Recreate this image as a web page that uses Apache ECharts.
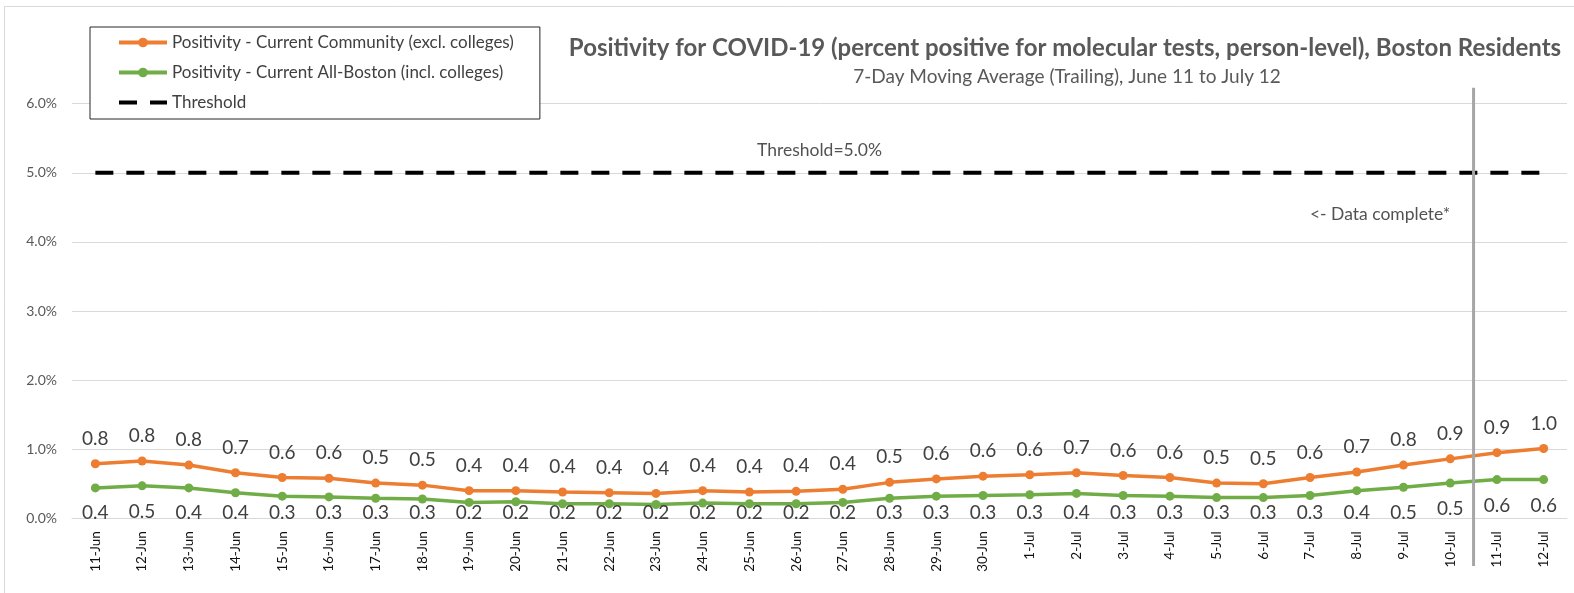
<!DOCTYPE html>
<html>
<head>
<meta charset="utf-8">
<script src="https://cdn.jsdelivr.net/npm/echarts@6/dist/echarts.min.js"></script>
<style>
  html, body { margin: 0; padding: 0; background: #fff; }
  #chart { width: 1574px; height: 593px; }
</style>
</head>
<body>
<div id="chart"></div>
<script>
// days, 11-Jun .. 12-Jul
var days = ["11-Jun", "12-Jun", "13-Jun", "14-Jun", "15-Jun", "16-Jun", "17-Jun", "18-Jun",
  "19-Jun", "20-Jun", "21-Jun", "22-Jun", "23-Jun", "24-Jun", "25-Jun", "26-Jun", "27-Jun",
  "28-Jun", "29-Jun", "30-Jun", "1-Jul", "2-Jul", "3-Jul", "4-Jul", "5-Jul", "6-Jul", "7-Jul",
  "8-Jul", "9-Jul", "10-Jul", "11-Jul", "12-Jul"];

// positivity, percent
var community = [0.79, 0.83, 0.77, 0.66, 0.59, 0.58, 0.51, 0.48, 0.40, 0.40, 0.38, 0.37,
  0.36, 0.40, 0.38, 0.39, 0.42, 0.52, 0.57, 0.61, 0.63, 0.66, 0.62, 0.59, 0.51, 0.50,
  0.59, 0.67, 0.77, 0.86, 0.95, 1.01];
var allBoston = [0.44, 0.47, 0.44, 0.37, 0.32, 0.31, 0.29, 0.28, 0.23, 0.24, 0.21, 0.21,
  0.20, 0.22, 0.21, 0.21, 0.23, 0.29, 0.32, 0.33, 0.34, 0.36, 0.33, 0.32, 0.30, 0.30,
  0.33, 0.40, 0.45, 0.51, 0.56, 0.56];
var thresholdValue = 5.0;
var threshold = days.map(function () { return thresholdValue; });

var yTicks = [0, 1, 2, 3, 4, 5, 6];

// "data complete" cut between 10-Jul and 11-Jul
var cutIndex = 29.5;

var chart = echarts.init(document.getElementById("chart"));
var font = "Lato, 'Open Sans', sans-serif";

function oneDecimal(p) { return p.value.toFixed(1); }

var option = {
  animation: false,
  textStyle: { fontFamily: font },
  graphic: [{
    type: "rect",
    shape: { x: 4.5, y: 6.5, width: 1620, height: 640 },
    style: { fill: null, stroke: "#d9d9d9", lineWidth: 1 },
    silent: true
  }],
  title: [{
    text: "Positivity for COVID-19 (percent positive for molecular tests, person-level), Boston Residents",
    left: 1060, top: 31, textAlign: "center",
    textStyle: { fontSize: 24, fontWeight: "bold", color: "#595959", fontFamily: font }
  }, {
    text: "7-Day Moving Average (Trailing), June 11 to July 12",
    left: 1062, top: 62, textAlign: "center",
    textStyle: { fontSize: 19, fontWeight: "normal", color: "#595959", fontFamily: font }
  }],
  legend: {
    orient: "vertical",
    left: 90, top: 27,
    padding: [7, 26, 8, 27],
    itemWidth: 48, itemHeight: 12, itemGap: 13,
    borderColor: "#262626", borderWidth: 1,
    backgroundColor: "#fff",
    lineStyle: { width: 4 },
    textStyle: { fontSize: 17, color: "#404040", fontFamily: font },
    data: ["Positivity - Current Community (excl. colleges)",
      "Positivity - Current All-Boston (incl. colleges)",
      { name: "Threshold", itemStyle: { opacity: 0 } }]
  },
  grid: { left: 72, right: 7, top: 103.7, bottom: 74.7 },
  xAxis: [{
    type: "category",
    data: days,
    boundaryGap: true,
    axisLine: { lineStyle: { color: "#d9d9d9", width: 1 } },
    axisTick: { show: false },
    axisLabel: { rotate: 90, margin: 13, fontSize: 13.5, color: "#111", fontFamily: font, interval: 0 }
  }, {
    type: "value", min: -0.5, max: days.length - 0.5, show: false
  }],
  yAxis: {
    type: "value",
    min: yTicks[0], max: yTicks[yTicks.length - 1], interval: 1,
    axisLine: { show: false },
    axisTick: { show: false },
    splitLine: { lineStyle: { color: "#d9d9d9", width: 1 } },
    axisLabel: {
      margin: 15, fontSize: 14, color: "#595959", fontFamily: font,
      formatter: function (v) { return v.toFixed(1) + "%"; }
    }
  },
  series: [{
    name: "Threshold",
    type: "line",
    data: threshold,
    symbol: "none",
    z: 1,
    lineStyle: { color: "#000", width: 4, type: [18, 13] },
    itemStyle: { color: "#000" }
  }, {
    name: "Positivity - Current Community (excl. colleges)",
    type: "line",
    data: community,
    symbol: "circle", symbolSize: 9,
    z: 3,
    lineStyle: { color: "#ED7D31", width: 3.5 },
    itemStyle: { color: "#ED7D31" },
    label: {
      show: true, position: "top", distance: 11,
      fontSize: 19, color: "#404040", fontFamily: font,
      formatter: oneDecimal
    }
  }, {
    name: "Positivity - Current All-Boston (incl. colleges)",
    type: "line",
    data: allBoston,
    symbol: "circle", symbolSize: 9,
    z: 3,
    lineStyle: { color: "#70AD47", width: 3.5 },
    itemStyle: { color: "#70AD47" },
    label: {
      show: true, position: "bottom", distance: 12,
      fontSize: 19, color: "#404040", fontFamily: font,
      formatter: oneDecimal
    },
    // keep the lower labels inside the plot, like the original
    labelLayout: function (params) {
      var r = params.labelRect;
      var cy = Math.min(r.y + r.height / 2, 513);
      return { x: r.x + r.width / 2, y: cy, align: "center", verticalAlign: "middle" };
    }
  }, {
    name: "cut",
    type: "line",
    xAxisIndex: 1,
    data: [[cutIndex, 6.23], [cutIndex, -0.69]],
    symbol: "none",
    clip: false,
    z: 4,
    lineStyle: { color: "#A6A6A6", width: 3 }
  }, {
    name: "notes",
    type: "scatter",
    xAxisIndex: 1,
    symbolSize: 0,
    silent: true,
    data: [
      { value: [15.5, thresholdValue], label: { formatter: "Threshold=5.0%", position: "top", distance: 13 } },
      { value: [27.5, 4.40], label: { formatter: "<- Data complete*", position: "inside" } }
    ],
    label: { show: true, fontSize: 17.5, color: "#262626", fontFamily: font }
  }]
};

chart.setOption(option);
</script>
</body>
</html>
